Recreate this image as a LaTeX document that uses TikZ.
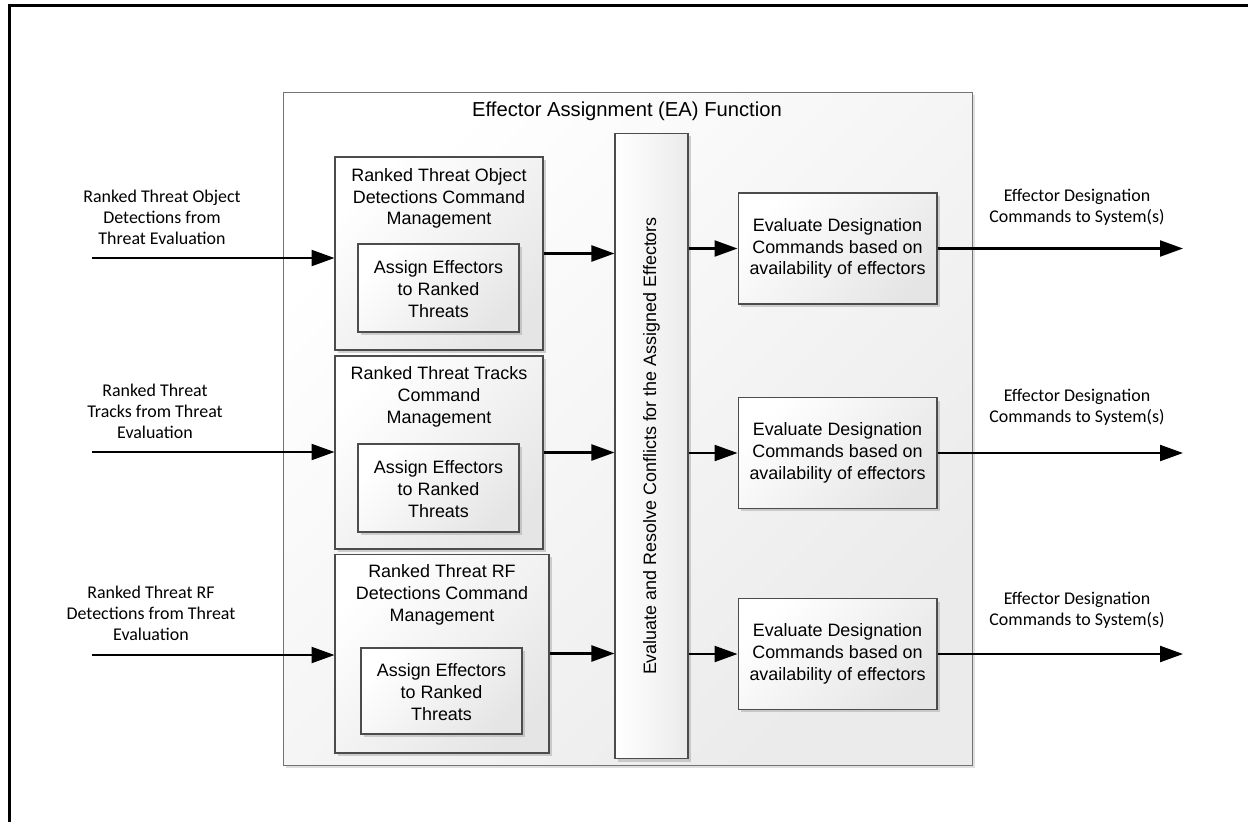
\documentclass[tikz,border=0pt]{standalone}
\usepackage{fontspec}
\setmainfont{Liberation Sans}
\newfontfamily\lblfont{Carlito}
\usepackage{tikz}
\usetikzlibrary{arrows.meta,shadows}

\tikzset{
  blk/.style={draw=black!70, line width=0.6pt, inner sep=0pt,
    top color=white, bottom color=black!10, shading angle=45,
    drop shadow={shadow xshift=0.06cm, shadow yshift=-0.06cm, fill=black!35, opacity=0.5}},
  bar/.style={blk, left color=white, right color=black!8},
  frame/.style={draw=black!55, line width=0.6pt, inner sep=0pt,
    top color=white, bottom color=black!8, shading angle=45,
    drop shadow={shadow xshift=0.05cm, shadow yshift=-0.05cm, fill=black!25, opacity=0.5}},
  boxtxt/.style={align=center, inner sep=0pt, font=\fontsize{10.2}{12.4}\selectfont},
  lbl/.style={align=center, inner sep=0pt, font=\lblfont\fontsize{10.2}{12}\selectfont},
  flow/.style={line width=1.3pt, -{Triangle[length=0.46cm, width=0.32cm]}}
}

\begin{document}
\begin{tikzpicture}[x=0.02cm, y=-0.02cm]
		%%%%% START %%%%%
		\useasboundingbox (0,0) rectangle (1248,822);
		\draw[line width=1.6pt] (9.5,822) -- (9.5,5.5) -- (1248,5.5);
		
		\node[frame, minimum width=13.8cm, minimum height=13.48cm] (ea) at (628,429) {};
		\node[boxtxt, font=\fontsize{11.5}{14}\selectfont] (eaT) at (627,111) {Effector Assignment (EA) Function};
		
		% command management boxes
		\node[blk, minimum width=4.16cm, minimum height=3.86cm] (obj) at (439,253.5) {};
		\node[boxtxt] (objT) at (439,198.5) {Ranked Threat Object\\Detections Command\\Management};
		\node[blk, minimum width=3.22cm, minimum height=1.76cm] (objA) at (438.5,288) {};
		\node[boxtxt] (objAT) at (438.5,289) {Assign Effectors\\to Ranked\\Threats};
		
		\node[blk, minimum width=4.16cm, minimum height=3.86cm] (trk) at (439,452.5) {};
		\node[boxtxt] (trkT) at (439,397) {Ranked Threat Tracks\\Command\\Management};
		\node[blk, minimum width=3.22cm, minimum height=1.76cm] (trkA) at (438.5,488) {};
		\node[boxtxt] (trkAT) at (438.5,489) {Assign Effectors\\to Ranked\\Threats};
		
		\node[blk, minimum width=4.28cm, minimum height=3.98cm] (rf) at (442,653.5) {};
		\node[boxtxt] (rfT) at (442,595) {Ranked Threat RF\\Detections Command\\Management};
		\node[blk, minimum width=3.22cm, minimum height=1.72cm] (rfA) at (441.5,691) {};
		\node[boxtxt] (rfAT) at (441.5,692) {Assign Effectors\\to Ranked\\Threats};
		
		% conflict resolution bar
		\node[bar, minimum width=1.46cm, minimum height=12.52cm] (resolve) at (651.5,446) {};
		\node[boxtxt, rotate=90] (resolveT) at (651.5,446) {Evaluate and Resolve Conflicts for the Assigned Effectors};
		
		% designation boxes
		\node[blk, minimum width=3.98cm, minimum height=2.22cm] (desA) at (837.5,248.5) {};
		\node[blk, minimum width=3.98cm, minimum height=2.22cm] (desB) at (837.5,453) {};
		\node[blk, minimum width=3.98cm, minimum height=2.22cm] (desC) at (837.5,654) {};
		\node[boxtxt] (desAT) at (desA) {Evaluate Designation\\Commands based on\\availability of effectors};
		\node[boxtxt] (desBT) at (desB) {Evaluate Designation\\Commands based on\\availability of effectors};
		\node[boxtxt] (desCT) at (desC) {Evaluate Designation\\Commands based on\\availability of effectors};
		
		% labels
		\node[lbl] (inObj) at (162,217) {Ranked Threat Object\\Detections from\\Threat Evaluation};
		\node[lbl] (inTrk) at (155,411) {Ranked Threat\\Tracks from Threat\\Evaluation};
		\node[lbl] (inRf) at (151,613) {Ranked Threat RF\\Detections from Threat\\Evaluation};
		\node[lbl] (outA) at (1077,207.5) {Effector Designation\\Commands to System(s)};
		\node[lbl] (outB) at (1077,407) {Effector Designation\\Commands to System(s)};
		\node[lbl] (outC) at (1077,610.5) {Effector Designation\\Commands to System(s)};
		
		% arrows
		\coordinate (srcObj) at (92,258);
		\coordinate (srcTrk) at (92,452);
		\coordinate (srcRf) at (92,655);
		\coordinate (sink) at (1183,0);
		
		\draw[flow] (srcObj) -- (srcObj -| obj.west);
		\draw[flow] (srcTrk) -- (srcTrk -| trk.west);
		\draw[flow] (srcRf) -- (srcRf -| rf.west);
		
		\draw[flow] (obj.east) -- (obj.east -| resolve.west);
		\draw[flow] (trk.east) -- (trk.east -| resolve.west);
		\draw[flow] (rf.east) -- (rf.east -| resolve.west);
		
		\draw[flow] (resolve.east |- desA.west) -- (desA.west);
		\draw[flow] (resolve.east |- desB.west) -- (desB.west);
		\draw[flow] (resolve.east |- desC.west) -- (desC.west);
		
		\draw[flow] (desA.east) -- (desA.east -| sink);
		\draw[flow] (desB.east) -- (desB.east -| sink);
		\draw[flow] (desC.east) -- (desC.east -| sink);
		%%%%% END %%%%%
	\end{tikzpicture}
\end{document}
